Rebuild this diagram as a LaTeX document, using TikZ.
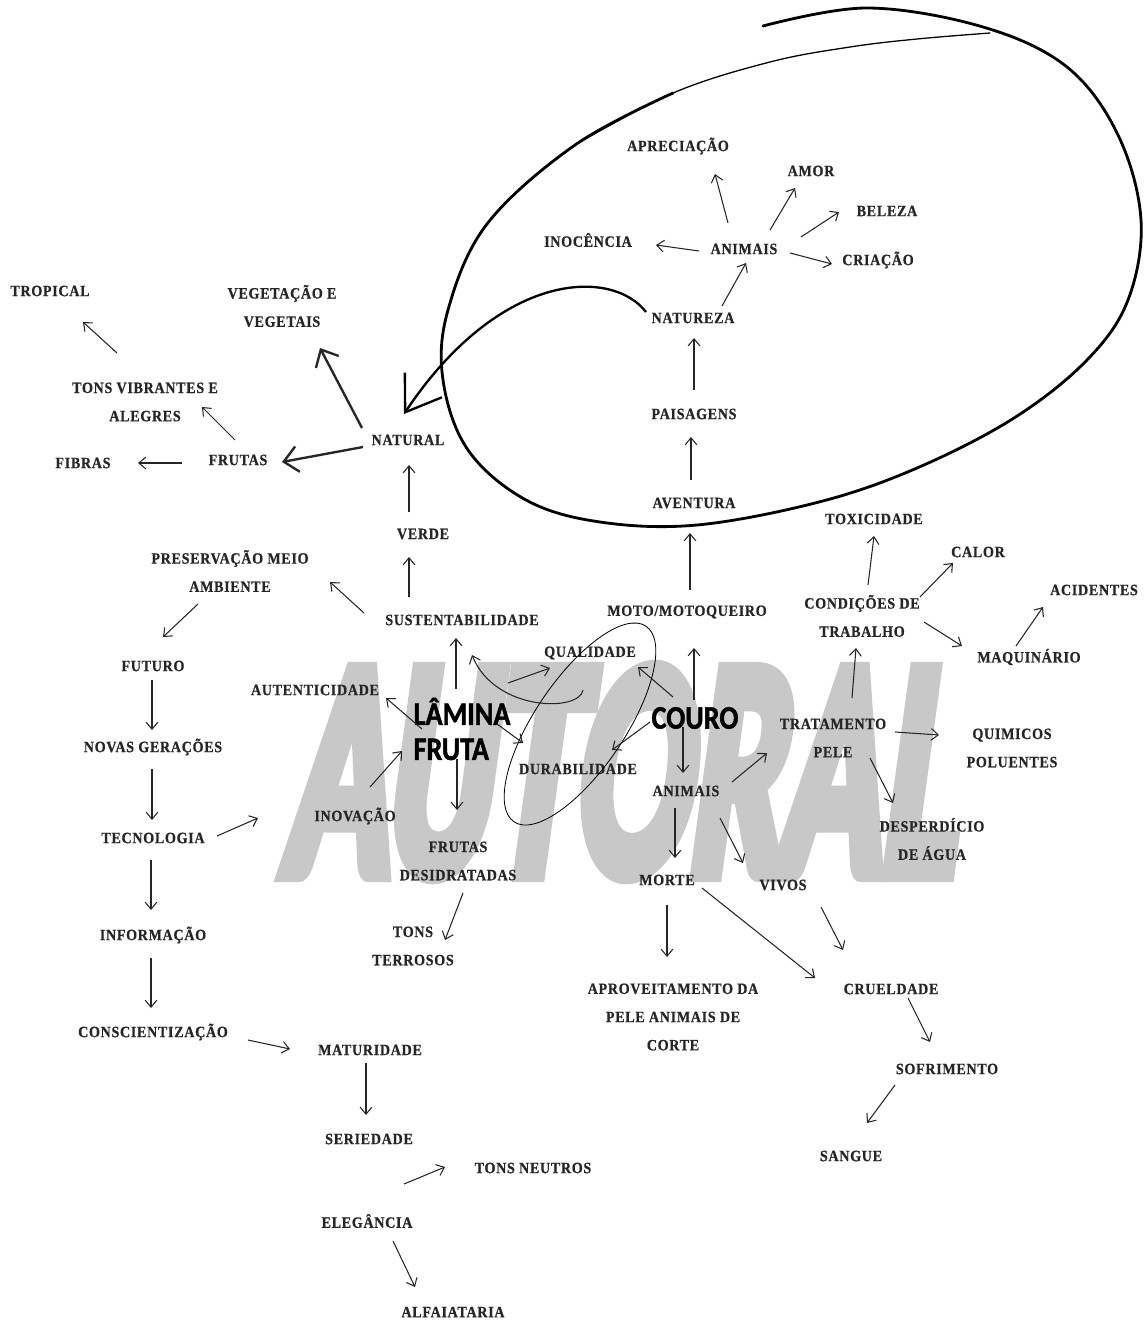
\documentclass[tikz,border=0pt]{standalone}
\usepackage{fontspec}
\usepackage{xcolor}
\usepackage{tikz}
\usetikzlibrary{arrows.meta}
\newfontfamily\capfont[LetterSpace=5, BoldFeatures={FakeBold=0.7}]{Liberation Serif}
\newfontfamily\bigfont[BoldFeatures={FakeBold=1.5}]{Carlito}
\newfontfamily\wmfont[BoldItalicFeatures={FakeBold=8}]{Lato}
\definecolor{ink}{HTML}{262626}
\definecolor{wmgray}{HTML}{C8C8C8}

\begin{document}
\begin{tikzpicture}[x=0.03cm, y=-0.03cm,
  lbl/.style={font=\capfont\bfseries\fontsize{12}{21.5}\selectfont, text=ink, inner sep=0pt, align=center, yscale=1.12},
  big/.style={font=\bigfont\bfseries\fontsize{28}{30}\selectfont, inner sep=0pt, align=left, xscale=0.86},
  wm/.style={font=\wmfont\bfseries\itshape\fontsize{200}{200}\selectfont, text=wmgray, inner sep=0pt},
  arr/.style={-{Straight Barb[length=6pt,width=10pt]}, line width=0.9pt, draw=ink},
  fat/.style={-{Straight Barb[length=12pt,width=22pt]}, line width=2pt, draw=ink}]
  \useasboundingbox[fill=white] (0,0) rectangle (1145,1320);
  \node[wm, xscale=0.655, yscale=1.17, xslant=0.12] (wmark) at (630,772) {AUTORAL};

  % animais / natureza
  \node[lbl] (apre)   at (678,146)  {APRECIAÇÃO};
  \node[lbl] (amor)   at (811,171)  {AMOR};
  \node[lbl] (beleza) at (887,211)  {BELEZA};
  \node[lbl] (inoc)   at (588,240)  {INOCÊNCIA};
  \node[lbl] (animT)  at (744,249)  {ANIMAIS};
  \node[lbl] (cria)   at (878,260)  {CRIAÇÃO};
  \node[lbl] (natz)   at (693,318)  {NATUREZA};
  \node[lbl] (pais)   at (694,414)  {PAISAGENS};
  \node[lbl] (avent)  at (694,503)  {AVENTURA};
  \node[lbl] (moto)   at (687,612)  {MOTO/MOTOQUEIRO};

  % couro
  \node[big] (couro)  at (695,718)  {COURO};
  \node[lbl] (qual)   at (590,653)  {QUALIDADE};
  \node[lbl] (dura)   at (578,769)  {DURABILIDADE};
  \node[lbl] (animB)  at (686,791)  {ANIMAIS};
  \node[lbl] (trat)   at (833,738)  {TRATAMENTO\\PELE};
  \node[lbl] (cond)   at (862,616)  {CONDIÇÕES DE\\TRABALHO};
  \node[lbl] (tox)    at (874,519)  {TOXICIDADE};
  \node[lbl] (calor)  at (978,552)  {CALOR};
  \node[lbl] (maq)    at (1029,657) {MAQUINÁRIO};
  \node[lbl] (acid)   at (1094,590) {ACIDENTES};
  \node[lbl] (quim)   at (1012,748) {QUIMICOS\\POLUENTES};
  \node[lbl] (desp)   at (932,839)  {DESPERDÍCIO\\DE ÁGUA};
  \node[lbl] (morte)  at (667,880)  {MORTE};
  \node[lbl] (vivos)  at (783,885)  {VIVOS};
  \node[lbl] (aprov)  at (673,1017) {APROVEITAMENTO DA\\PELE ANIMAIS DE\\CORTE};
  \node[lbl] (cruel)  at (891,989)  {CRUELDADE};
  \node[lbl] (sofr)   at (947,1069) {SOFRIMENTO};
  \node[lbl] (sangue) at (851,1156) {SANGUE};

  % lamina fruta
  \node[big] (lamina) at (462,729)  {LÂMINA\\FRUTA};
  \node[lbl] (sust)   at (462,620)  {SUSTENTABILIDADE};
  \node[lbl] (verde)  at (423,534)  {VERDE};
  \node[lbl] (natural) at (408,440) {NATURAL};
  \node[lbl] (frutas) at (238,460)  {FRUTAS};
  \node[lbl] (fibras) at (83,463)   {FIBRAS};
  \node[lbl] (veget)  at (282,306)  {VEGETAÇÃO E\\VEGETAIS};
  \node[lbl] (tonsV)  at (145,402)  {TONS VIBRANTES E\\ALEGRES};
  \node[lbl] (tropical) at (50,291) {TROPICAL};
  \node[lbl] (pres)   at (230,571)  {PRESERVAÇÃO MEIO\\AMBIENTE};
  \node[lbl] (aut)    at (315,690)  {AUTENTICIDADE};
  \node[lbl] (futuro) at (153,666)  {FUTURO};
  \node[lbl] (novas)  at (153,747)  {NOVAS GERAÇÕES};
  \node[lbl] (tecn)   at (153,838)  {TECNOLOGIA};
  \node[lbl] (inov)   at (355,816)  {INOVAÇÃO};
  \node[lbl] (frutasD) at (458,861) {FRUTAS\\DESIDRATADAS};
  \node[lbl] (tonsT)  at (413,946)  {TONS\\TERROSOS};
  \node[lbl] (info)   at (153,935)  {INFORMAÇÃO};
  \node[lbl] (consc)  at (153,1032) {CONSCIENTIZAÇÃO};
  \node[lbl] (matur)  at (370,1050) {MATURIDADE};
  \node[lbl] (seried) at (369,1139) {SERIEDADE};
  \node[lbl] (tonsN)  at (533,1168) {TONS NEUTROS};
  \node[lbl] (eleg)   at (367,1221) {ELEGÂNCIA};
  \node[lbl] (alfai)  at (453,1312) {ALFAIATARIA};

  % loop round the animais cluster
  \draw[line width=2.4pt, line cap=round] plot[smooth, tension=0.6] coordinates {(763,26) (867,8) (983,27) (1067,67) (1118,135) (1141,220) (1128,300) (1087,360) (1014,418) (917,468) (819,502) (697,525) (600,522) (526,500) (468,450) (443,380) (448,310) (487,224) (575,145) (673,93)};
  \draw[line width=1.1pt, line cap=round] plot[smooth, tension=0.6] coordinates {(575,145) (673,93) (770,62) (850,47) (917,39) (990,33)};
  \draw[line width=2pt, -{Straight Barb[length=28pt,width=38pt]}] ([shift={(-47,-6)}]natz.center) .. controls +(-34,-44) and +(96,-144) .. ([shift={(-4,-26)}]natural.center);
  \draw[line width=0.7pt, rotate around={56:(580,724)}] (580,724) ellipse [x radius=118, y radius=45];

  \draw[arr] ([shift={(-16,-26)}]animT.center) -- ([shift={(37,28)}]apre.center);
  \draw[arr] ([shift={(26,-19)}]animT.center) -- ([shift={(-16,17)}]amor.center);
  \draw[arr] ([shift={(57,-12)}]animT.center) -- ([shift={(-48,1)}]beleza.center);
  \draw[arr] ([shift={(-45,2)}]animT.center) -- ([shift={(68,5)}]inoc.center);
  \draw[arr] ([shift={(46,4)}]animT.center) -- ([shift={(-46,4)}]cria.center);
  \draw[arr] ([shift={(29,-12)}]natz.center) -- ([shift={(2,14)}]animT.center);
  \draw[arr] ([shift={(0,-24)}]pais.center) -- ([shift={(1,20)}]natz.center);
  \draw[arr] ([shift={(-3,-23)}]avent.center) -- ([shift={(-3,23)}]pais.center);
  \draw[arr] ([shift={(3,-22)}]moto.center) -- ([shift={(-4,30)}]avent.center);
  \draw[arr] ([shift={(-1,-18)}]couro.center) -- ([shift={(7,36)}]moto.center);
  \draw[arr] ([shift={(-22,-21)}]couro.center) -- ([shift={(48,14)}]qual.center);
  \draw[arr] ([shift={(-45,4)}]couro.center) -- ([shift={(34,-19)}]dura.center);
  \draw[arr] ([shift={(-12,9)}]couro.center) -- ([shift={(-3,-18)}]animB.center);
  \draw[arr] ([shift={(46,-9)}]animB.center) -- ([shift={(-66,15)}]trat.center);
  \draw[arr] ([shift={(-11,17)}]animB.center) -- ([shift={(8,-22)}]morte.center);
  \draw[arr] ([shift={(34,27)}]animB.center) -- ([shift={(-40,-22)}]vivos.center);
  \draw[arr] ([shift={(19,-40)}]trat.center) -- ([shift={(-6,32)}]cond.center);
  \draw[arr] ([shift={(62,-6)}]trat.center) -- ([shift={(-73,-13)}]quim.center);
  \draw[arr] ([shift={(37,20)}]trat.center) -- ([shift={(-39,-36)}]desp.center);
  \draw[arr] ([shift={(6,-31)}]cond.center) -- ([shift={(0,17)}]tox.center);
  \draw[arr] ([shift={(58,-19)}]cond.center) -- ([shift={(-25,11)}]calor.center);
  \draw[arr] ([shift={(62,6)}]cond.center) -- ([shift={(-67,-11)}]maq.center);
  \draw[arr] ([shift={(-13,-11)}]maq.center) -- ([shift={(-51,17)}]acid.center);
  \draw[arr] ([shift={(0,25)}]morte.center) -- ([shift={(-6,-60)}]aprov.center);
  \draw[arr] ([shift={(35,8)}]morte.center) -- ([shift={(-76,-11)}]cruel.center);
  \draw[arr] ([shift={(38,22)}]vivos.center) -- ([shift={(-48,-39)}]cruel.center);
  \draw[arr] ([shift={(17,9)}]cruel.center) -- ([shift={(-17,-27)}]sofr.center);
  \draw[arr] ([shift={(-52,16)}]sofr.center) -- ([shift={(16,-33)}]sangue.center);

  \draw[arr] ([shift={(-6,-40)}]lamina.center) -- ([shift={(-6,18)}]sust.center);
  \draw[arr] ([shift={(-40,0)}]lamina.center) -- ([shift={(71,8)}]aut.center);
  \draw[arr] ([shift={(35,-5)}]lamina.center) -- ([shift={(-55,-26)}]dura.center);
  \draw[arr] ([shift={(46,-46)}]lamina.center) -- ([shift={(-40,15)}]qual.center);
  \draw[arr] ([shift={(-7,37)}]qual.center) .. controls +(-3,22) and +(23,57) .. ([shift={(10,35)}]sust.center);
  \draw[arr] ([shift={(15,-29)}]inov.center) -- ([shift={(-60,22)}]lamina.center);
  \draw[arr] ([shift={(-5,30)}]lamina.center) -- ([shift={(-1,-51)}]frutasD.center);
  \draw[arr] ([shift={(5,32)}]frutasD.center) -- ([shift={(32,-6)}]tonsT.center);
  \draw[arr] ([shift={(64,-2)}]tecn.center) -- ([shift={(-97,2)}]inov.center);
  \draw[arr] ([shift={(-98,-7)}]sust.center) -- ([shift={(100,11)}]pres.center);
  \draw[arr] ([shift={(-53,-23)}]sust.center) -- ([shift={(-14,23)}]verde.center);
  \draw[arr] ([shift={(-14,-22)}]verde.center) -- ([shift={(1,25)}]natural.center);
  \draw[fat] ([shift={(-45,7)}]natural.center) -- ([shift={(44,2)}]frutas.center);
  \draw[fat] ([shift={(-46,-12)}]natural.center) -- ([shift={(38,42)}]veget.center);
  \draw[arr] ([shift={(-3,-20)}]frutas.center) -- ([shift={(57,5)}]tonsV.center);
  \draw[arr] ([shift={(-56,3)}]frutas.center) -- ([shift={(55,0)}]fibras.center);
  \draw[arr] ([shift={(-28,-49)}]tonsV.center) -- ([shift={(33,31)}]tropical.center);
  \draw[arr] ([shift={(-32,33)}]pres.center) -- ([shift={(10,-29)}]futuro.center);
  \draw[arr] ([shift={(-1,14)}]futuro.center) -- ([shift={(-1,-17)}]novas.center);
  \draw[arr] ([shift={(-1,22)}]novas.center) -- ([shift={(-1,-18)}]tecn.center);
  \draw[arr] ([shift={(-2,22)}]tecn.center) -- ([shift={(-2,-25)}]info.center);
  \draw[arr] ([shift={(-2,23)}]info.center) -- ([shift={(-2,-24)}]consc.center);
  \draw[arr] ([shift={(95,8)}]consc.center) -- ([shift={(-80,-1)}]matur.center);
  \draw[arr] ([shift={(-4,13)}]matur.center) -- ([shift={(-3,-24)}]seried.center);
  \draw[arr] ([shift={(37,-37)}]eleg.center) -- ([shift={(-88,-1)}]tonsN.center);
  \draw[arr] ([shift={(26,20)}]eleg.center) -- ([shift={(-38,-25)}]alfai.center);
\end{tikzpicture}
\end{document}
